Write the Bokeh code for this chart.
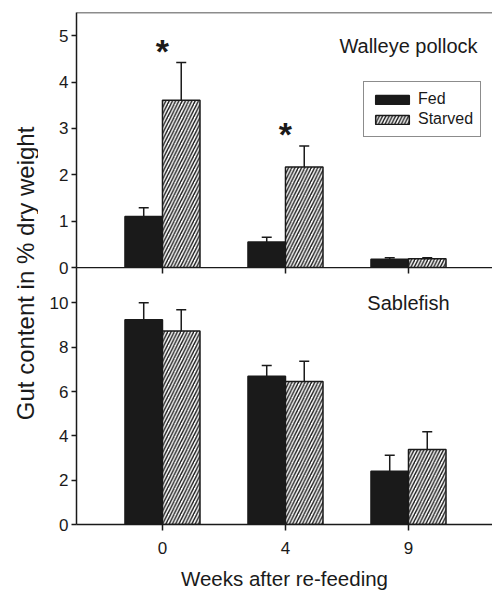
import numpy as np
from bokeh.plotting import figure
from bokeh.models import (ColumnDataSource, Range1d, FixedTicker, LinearAxis,
                          Whisker, TeeHead, Legend, LegendItem, Label, Span)
from bokeh.layouts import row, column
from bokeh.embed import file_html
from bokeh.resources import INLINE
from bokeh.core.properties import value
from bokeh.transform import dodge

# ---------------- data ----------------
weeks = ["0", "4", "9"]

pollock_fed = [1.10, 0.55, 0.18]
pollock_fed_se = [0.19, 0.10, 0.03]
pollock_starved = [3.61, 2.17, 0.19]
pollock_starved_se = [0.81, 0.45, 0.02]
pollock_signif = [True, True, False]

sable_fed = [9.24, 6.69, 2.40]
sable_fed_se = [0.77, 0.49, 0.73]
sable_starved = [8.73, 6.46, 3.39]
sable_starved_se = [0.96, 0.91, 0.80]
sable_signif = [False, False, False]

pollock_ticks = [0, 1, 2, 3, 4, 5]
sable_ticks = [0, 2, 4, 6, 8, 10]

# ---------------- style ----------------
FONT = "Liberation Sans"
INK = "#1a1a1a"
BAR_W = 0.305
X_RANGE = (-0.699, 2.683)
LW = 1.5
OVERLAP = 12


def style_yaxis(ax, ticks):
    ax.ticker = FixedTicker(ticks=ticks)
    ax.axis_line_width = LW
    ax.axis_line_color = INK
    ax.major_tick_line_width = LW
    ax.major_tick_line_color = INK
    ax.major_tick_out = 5
    ax.major_tick_in = 0
    ax.minor_tick_out = 0
    ax.minor_tick_in = 0
    ax.major_label_standoff = 3
    ax.major_label_text_font = FONT
    ax.major_label_text_font_size = "17px"
    ax.major_label_text_color = INK


def draw_panel(p, fed, fed_se, starved, starved_se, signif):
    xs = list(range(len(weeks)))
    src = ColumnDataSource(dict(
        x=xs, fed=fed, starved=starved,
        fed_top=[v + e for v, e in zip(fed, fed_se)],
        starved_top=[v + e for v, e in zip(starved, starved_se)],
    ))
    r_fed = p.vbar(x=dodge("x", -BAR_W / 2), top="fed", bottom=0, width=BAR_W,
                   source=src, fill_color=INK, line_color=INK, line_width=LW)
    r_st = p.vbar(x=dodge("x", BAR_W / 2), top="starved", bottom=0, width=BAR_W,
                  source=src, fill_color="white", line_color=INK, line_width=LW,
                  hatch_pattern="/", hatch_color=INK, hatch_weight=1.4,
                  hatch_scale=6.5)
    for col, top, off in (("fed", "fed_top", -BAR_W / 2),
                          ("starved", "starved_top", BAR_W / 2)):
        w = Whisker(base=dodge("x", off), lower=col, upper=top, source=src,
                    dimension="height", line_color=INK, line_width=LW,
                    upper_head=TeeHead(size=10, line_width=LW, line_color=INK),
                    lower_head=None, level="overlay")
        p.add_layout(w)
    sx = [x for x, s in zip(xs, signif) if s]
    sy = [v + e for v, e, s in zip(starved, starved_se, signif) if s]
    if sx:
        p.text(x=sx, y=sy, text=["*"] * len(sx), text_font=value(FONT),
               text_font_size="34px", text_font_style="bold",
               text_align="center", text_baseline="alphabetic",
               y_offset=-12, text_color=INK)
    return r_fed, r_st


# ---------------- top panel: walleye pollock ----------------
p1 = figure(width=454, height=279, x_range=Range1d(*X_RANGE),
            y_range=Range1d(0, 5.5), output_backend="svg",
            toolbar_location=None, x_axis_location=None,
            min_border_left=38, min_border_right=0, min_border_top=12,
            min_border_bottom=OVERLAP)
p1.outline_line_color = None
p1.grid.visible = False
style_yaxis(p1.yaxis[0], pollock_ticks)
r_fed, r_st = draw_panel(p1, pollock_fed, pollock_fed_se, pollock_starved,
                         pollock_starved_se, pollock_signif)
p1.add_layout(Span(location=5.5, dimension="width", line_color=INK,
                   line_width=LW))
p1.add_layout(Label(x=2, y=4.78, text="Walleye pollock", text_align="center",
                    text_baseline="middle", text_font=FONT,
                    text_font_size="20px", text_color=INK))
legend = Legend(items=[LegendItem(label="Fed", renderers=[r_fed]),
                       LegendItem(label="Starved", renderers=[r_st])],
                location=(287, 130), padding=7, margin=0, spacing=0,
                glyph_width=42, glyph_height=11, label_standoff=5,
                label_height=20, label_text_font=FONT,
                label_text_font_size="16px", label_text_color=INK,
                border_line_color=INK, border_line_width=LW,
                background_fill_alpha=1)
p1.add_layout(legend)

# ---------------- bottom panel: sablefish ----------------
p2 = figure(width=454, height=325, x_range=p1.x_range,
            y_range=Range1d(0, 11.6), output_backend="svg",
            toolbar_location=None,
            min_border_left=38, min_border_right=0, min_border_top=0,
            min_border_bottom=67, margin=(-OVERLAP, 0, 0, 0))
p2.outline_line_color = None
p2.grid.visible = False
p2.border_fill_color = None
p2.background_fill_color = None
style_yaxis(p2.yaxis[0], sable_ticks)
xa = p2.xaxis[0]
xa.ticker = FixedTicker(ticks=list(range(len(weeks))))
xa.major_label_overrides = {i: w for i, w in enumerate(weeks)}
xa.axis_line_width = LW
xa.axis_line_color = INK
xa.major_tick_line_width = LW
xa.major_tick_line_color = INK
xa.major_tick_out = 6
xa.major_tick_in = 0
xa.minor_tick_out = 0
xa.minor_tick_in = 0
xa.major_label_standoff = 11
xa.major_label_text_font = FONT
xa.major_label_text_font_size = "17px"
xa.major_label_text_color = INK
xa.axis_label = "Weeks after re-feeding"
xa.axis_label_text_font = FONT
xa.axis_label_text_font_size = "20.5px"
xa.axis_label_text_font_style = "normal"
xa.axis_label_text_color = INK
xa.axis_label_standoff = 10

top_ax = LinearAxis(ticker=FixedTicker(ticks=list(range(len(weeks)))),
                    major_label_overrides={i: "" for i in range(len(weeks))},
                    major_label_text_font_size="0px", major_label_standoff=0,
                    major_tick_in=6, major_tick_out=0, minor_tick_in=0,
                    minor_tick_out=0, axis_line_width=LW, axis_line_color=INK,
                    major_tick_line_width=LW, major_tick_line_color=INK)
p2.add_layout(top_ax, "above")
draw_panel(p2, sable_fed, sable_fed_se, sable_starved, sable_starved_se,
           sable_signif)
p2.add_layout(Label(x=2, y=10.0, text="Sablefish", text_align="center",
                    text_baseline="middle", text_font=FONT,
                    text_font_size="20px", text_color=INK))

# ---------------- shared y label ----------------
pl = figure(width=38, height=592, x_range=Range1d(0, 1), y_range=Range1d(0, 1),
            output_backend="svg", toolbar_location=None,
            x_axis_location=None, y_axis_location=None, min_border=0)
pl.outline_line_color = None
pl.grid.visible = False
pl.text(x=[0.658], y=[0.539], text=["Gut content in % dry weight"],
        angle=np.pi / 2, text_align="center", text_baseline="middle",
        text_font=value(FONT), text_font_size="24px", text_color=INK)

layout = row(pl, column(p1, p2))
open("out.html", "w").write(file_html(layout, INLINE))
